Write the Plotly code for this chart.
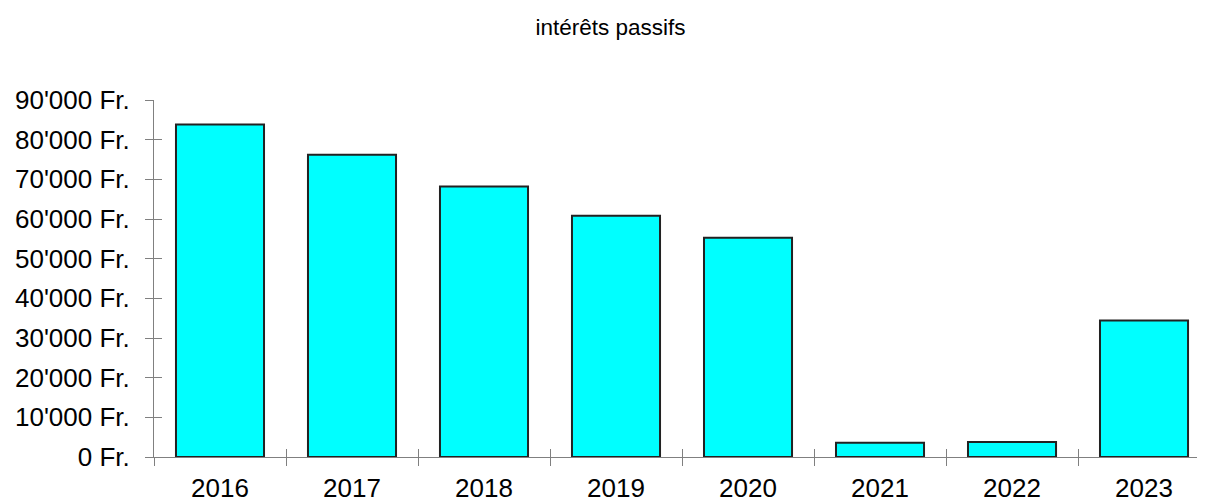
import plotly.graph_objects as go

years = ["2016", "2017", "2018", "2019", "2020", "2021", "2022", "2023"]
interets = [83800, 76200, 68200, 60800, 55300, 3600, 3800, 34400]
ytick_vals = [0, 10000, 20000, 30000, 40000, 50000, 60000, 70000, 80000, 90000]
ytick_text = ["0 Fr.", "10'000 Fr.", "20'000 Fr.", "30'000 Fr.", "40'000 Fr.",
              "50'000 Fr.", "60'000 Fr.", "70'000 Fr.", "80'000 Fr.", "90'000 Fr."]

FONT = "Liberation Sans, Arial, sans-serif"
AX = "#808080"
OFF = 8  # page body margin

fig = go.Figure()
fig.add_trace(go.Bar(
    x=years, y=interets, width=0.667,
    marker=dict(color="#00FFFF", line=dict(color="#222222", width=2)),
    showlegend=False, hoverinfo="x+y",
))
# invisible trace to anchor the overlay axes (crossing tick marks)
fig.add_trace(go.Scatter(
    x=years, y=interets, xaxis="x2", yaxis="y2", mode="markers",
    marker=dict(opacity=0), showlegend=False, hoverinfo="skip",
))

xrange = [-0.5, 7.462]
fig.update_layout(
    width=1205, height=500,
    margin=dict(l=154 - OFF, r=OFF, t=100 - OFF, b=43 + OFF, autoexpand=False),
    paper_bgcolor="white", plot_bgcolor="white",
    font=dict(family=FONT, size=26, color="black"),
    title=dict(text="intérêts passifs", x=0.5, xanchor="center",
               y=1 - (27 - OFF) / 500, yanchor="middle", yref="container",
               font=dict(family=FONT, size=22.5, color="black")),
    xaxis=dict(type="category", categoryorder="array", categoryarray=years,
               range=xrange, tickson="boundaries", ticks="outside", ticklen=8,
               tickcolor=AX, tickwidth=1, showline=True, linecolor=AX, linewidth=1,
               showgrid=False, zeroline=False, tickfont=dict(size=26, color="black"),
               ticklabelstandoff=8, automargin=False),
    xaxis2=dict(type="category", categoryorder="array", categoryarray=years,
                overlaying="x", range=xrange, tickson="boundaries", ticks="inside",
                ticklen=8, tickcolor=AX, tickwidth=1, showline=False,
                showgrid=False, zeroline=False, showticklabels=False, side="bottom",
                automargin=False),
    yaxis=dict(range=[0, 90000], tickvals=ytick_vals, ticktext=ytick_text,
               ticks="outside", ticklen=8, tickcolor=AX, tickwidth=1,
               showline=True, linecolor=AX, linewidth=1, showgrid=False,
               zeroline=False, tickfont=dict(size=26, color="black"),
               ticklabelstandoff=10, automargin=False),
    yaxis2=dict(range=[0, 90000], tickvals=ytick_vals, overlaying="y",
                ticks="inside", ticklen=8, tickcolor=AX, tickwidth=1,
                showline=False, showgrid=False, zeroline=False,
                showticklabels=False, side="left", automargin=False),
)

fig.write_html("out.html")
